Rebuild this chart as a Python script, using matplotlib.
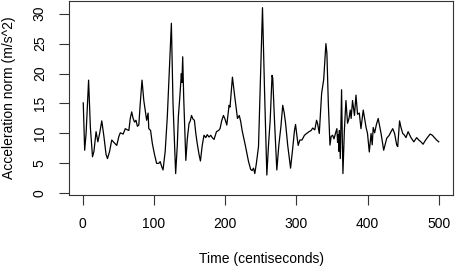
import numpy as np
import matplotlib
matplotlib.use("Agg")
import matplotlib.pyplot as plt

plt.rcParams["font.family"] = ["Liberation Sans", "DejaVu Sans"]

# Time (centiseconds) and acceleration norm
time_cs = [
    1, 3, 5, 8.5, 11, 14, 16, 19, 21.5, 24, 27, 30, 33, 35, 38, 41, 44, 48, 51, 53,
    57, 60, 63, 65, 67, 69, 71, 73, 75, 77, 79, 81, 83.5, 86, 88.5, 90, 92, 93, 95.5, 98,
    101, 104, 107, 109, 111, 113, 116, 119, 122, 124.7, 127, 130.7, 133, 134.5, 136.5,
    138.7, 139.5, 140.6, 142, 145, 147, 149.5, 151, 153, 155, 157, 159, 161, 163.5,
    165.5, 168, 170.5, 173, 175, 177.5, 180, 182, 184.6, 188, 191, 193, 195.5, 197.8,
    200, 202.5, 205.7, 207, 210.4, 213.7, 217.5, 220, 222, 224, 226, 228.5, 230.6, 233,
    236, 238, 240, 241.8, 244, 247, 249.5, 252.6, 255.5, 258.7, 261, 263.4, 266, 267,
    269.5, 272.7, 275.5, 278.4, 281, 283, 285, 288, 292, 295, 297.5, 299, 301, 302.7,
    305, 308, 311.5, 314.6, 318, 321, 323, 326, 328.5, 330, 332.3, 335.6, 338.5, 341.6,
    343, 345, 347.3, 349, 351, 353, 355, 357, 358, 359, 360, 360.5, 361.8, 363.6, 364.5,
    365.5, 367.5, 369.7, 372, 374, 375.8, 377, 379, 381.7, 383.8, 386, 388.5, 390.8,
    394, 396, 398, 400, 402.5, 405, 406.6, 408, 410, 412.5, 415, 419, 422.7, 425, 427,
    430.5, 433, 435.4, 438, 441, 442.4, 445, 447, 449.4, 452, 454, 457, 461, 465, 469,
    472, 475, 478, 481, 484, 488, 491, 494, 497, 500,
]
accel_norm = [
    15.1, 7.2, 10, 18.9, 11, 6.1, 7, 10.3, 8.6, 10, 12.1, 9.5, 6.5, 5.8, 7, 8.9, 8.5, 8.0, 9.5, 10.1,
    9.9, 10.8, 10.6, 10.5, 12.5, 13.6, 12.5, 11.9, 12.2, 11.2, 11.4, 15, 18.9, 15.5, 13.4, 12.2, 13.4, 10.8, 10.5, 8.3,
    6.5, 5.0, 5.0, 5.3, 4.5, 3.9, 7, 12.8, 21, 28.4, 15, 3.3, 8, 12.8, 16,
    20, 18.5, 22.8, 16, 5.5, 9, 11.7, 12.0, 13, 12.4, 12.2, 10, 8.3, 6.5,
    5.4, 8, 9.7, 9.3, 9.8, 9.4, 9.7, 9.3, 9.0, 10.3, 10.5, 10.8, 12.2, 13,
    12.4, 11.4, 14.7, 14.4, 19.4, 16.1, 12.5, 13, 12, 10.5, 9.4, 8, 6.7, 5.3,
    4.0, 3.8, 4.2, 3.3, 5, 7.8, 18, 31.0, 17, 3.05, 8, 12.2, 19.7, 19.2,
    12, 3.9, 8, 11.1, 14.7, 13.5, 11.7, 8, 4.2, 7.5, 10.5, 11.5, 9.5, 8.0,
    8.9, 8.9, 9.7, 10, 10.3, 10.5, 10.9, 10.6, 12.2, 11.6, 10.0, 16.7, 19, 25,
    23.4, 15, 8.05, 9.5, 9.7, 9.1, 10, 10.8, 8.5, 9.8, 7, 10.5, 5.8, 17.3, 10,
    3.3, 10.4, 15.5, 11.7, 12.5, 13.9, 12.5, 15.5, 13.0, 16.4, 13.2, 13.4, 10.8,
    13.9, 12.5, 11.0, 10.0, 6.9, 10, 8.1, 11, 10.1, 11.5, 12.5, 10, 7.2, 8.3, 9.2,
    9.7, 10.3, 10.8, 10, 8.05, 7.8, 12.1, 11, 10, 9.7, 9.3, 10.3, 9.3, 8.6, 9.3,
    8.9, 8.6, 8.2, 8.8, 9.3, 9.9, 9.7, 9.3, 8.9, 8.6,
]
x_ticks = [0, 100, 200, 300, 400, 500]
y_ticks = [0, 5, 10, 15, 20, 25, 30]

fig = plt.figure(figsize=(4.61, 2.66), dpi=100)
ax = fig.add_axes([69 / 461, 71.3 / 266, 384 / 461, 193.6 / 266])

ax.plot(time_cs, accel_norm, color="black", lw=0.9)
ax.set_xlim(-19, 520)
ax.set_ylim(-0.23, 32.1)

ax.set_xticks(x_ticks)
ax.set_yticks(y_ticks)
ax.set_yticklabels([str(v) for v in y_ticks], rotation=90, va="center")
ax.tick_params(axis="both", direction="out", length=7, width=0.8, labelsize=10,
               color="#333333", labelcolor="black")
ax.tick_params(axis="x", pad=9)
ax.tick_params(axis="y", pad=9)
for s in ax.spines.values():
    s.set_linewidth(0.8)
    s.set_color("#333333")

ax.set_xlabel("Time (centiseconds)", fontsize=10, labelpad=15)
ax.set_ylabel("Acceleration norm (m/s^2)", fontsize=10, labelpad=12)

fig.savefig("out.png", dpi=100)
